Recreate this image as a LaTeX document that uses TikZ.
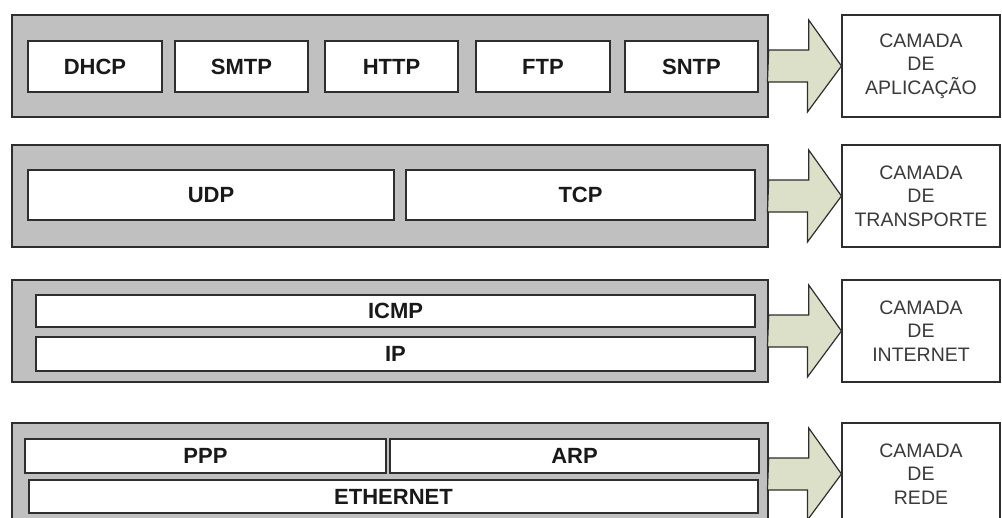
\documentclass[tikz,border=0pt]{standalone}
\usepackage{fontspec}
\setmainfont{Liberation Sans}
\usetikzlibrary{calc}
\definecolor{laygray}{HTML}{C0C0C0}
\definecolor{arrowfill}{HTML}{DCE0C9}
\definecolor{edge}{HTML}{2E2E2E}
\definecolor{captext}{HTML}{3A3A3A}

\begin{document}
\begin{tikzpicture}[x=1pt,y=-1pt,
  layer/.style={draw=edge, line width=1.4pt, fill=laygray, inner sep=0pt},
  proto/.style={draw=edge, line width=1.4pt, fill=white, inner sep=0pt,
    text=black!90, font=\fontsize{22}{25}\selectfont\bfseries},
  camada/.style={draw=edge, line width=1.1pt, fill=white, inner sep=0pt,
    minimum width=158pt, align=center, text=captext,
    font=\fontsize{19.5}{23.5}\selectfont},
  blockarrow/.style={draw=edge, line width=1.2pt, fill=arrowfill, line join=miter}
]
\path[use as bounding box, clip] (0,0) rectangle (1002,518);

% ---- application layer ----
\node[layer, minimum width=756pt, minimum height=102pt] (lay1) at (390,66) {};
\node[proto, minimum width=134pt, minimum height=51pt] (dhcp) at (95,66.5) {DHCP};
\node[proto, minimum width=133pt, minimum height=51pt] (smtp) at (241.5,66.5) {SMTP};
\node[proto, minimum width=133pt, minimum height=51pt] (http) at (391.5,66.5) {HTTP};
\node[proto, minimum width=134pt, minimum height=51pt] (ftp) at (543,66.5) {FTP};
\node[proto, minimum width=133pt, minimum height=51pt] (sntp) at (691.5,66.5) {SNTP};
\node[camada, minimum height=102pt] (lab1) at (921,66) {CAMADA\\DE\\APLICAÇÃO};

% ---- transport layer ----
\node[layer, minimum width=756pt, minimum height=102pt] (lay2) at (390,196) {};
\node[proto, minimum width=366pt, minimum height=50pt] (udp) at (211,195) {UDP};
\node[proto, minimum width=349pt, minimum height=50pt] (tcp) at (580.5,195) {TCP};
\node[camada, minimum height=102pt] (lab2) at (921,196) {CAMADA\\DE\\TRANSPORTE};

% ---- internet layer ----
\node[layer, minimum width=756pt, minimum height=102pt] (lay3) at (390,331) {};
\node[proto, minimum width=719pt, minimum height=32pt] (icmp) at (395.5,311) {ICMP};
\node[proto, minimum width=719pt, minimum height=34pt] (ip) at (395.5,354) {IP};
\node[camada, minimum height=102pt] (lab3) at (921,331) {CAMADA\\DE\\INTERNET};

% ---- network access layer ----
\node[layer, minimum width=756pt, minimum height=102pt] (lay4) at (390,474) {};
\node[proto, minimum width=361pt, minimum height=34pt] (ppp) at (205.5,456) {PPP};
\node[proto, minimum width=369pt, minimum height=34pt] (arp) at (574.5,456) {ARP};
\node[proto, minimum width=729pt, minimum height=33pt] (eth) at (393.5,496.5) {ETHERNET};
\node[camada, minimum height=102pt] (lab4) at (921,474) {CAMADA\\DE\\REDE};

% ---- block arrows from each layer to its caption ----
\foreach \i in {1,2,3,4}{
  \draw[blockarrow] ($(lay\i.east)+(0,-16)$) -- ++(40,0) -- ++(0,-30) -- (lab\i.west)
    -- ($(lab\i.west)+(-34,46)$) -- ++(0,-30) -- ++(-40,0) -- cycle;
}
\end{tikzpicture}
\end{document}
